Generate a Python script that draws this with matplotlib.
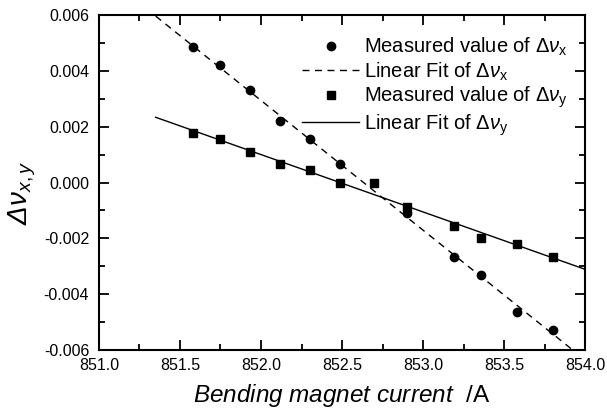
import numpy as np
import matplotlib
matplotlib.use("Agg")
import matplotlib.pyplot as plt
from matplotlib.ticker import MultipleLocator

plt.rcParams['font.family'] = ['Liberation Sans', 'DejaVu Sans']
plt.rcParams['mathtext.fontset'] = 'custom'
plt.rcParams['mathtext.rm'] = 'Liberation Sans'
plt.rcParams['mathtext.it'] = 'Liberation Sans:italic'
plt.rcParams['mathtext.sf'] = 'Liberation Sans:italic'
plt.rcParams['axes.unicode_minus'] = False

# Струм магніту та виміряні зсуви
current_x = [851.58, 851.75, 851.93, 852.12, 852.30, 852.49,
             852.90, 853.19, 853.36, 853.58, 853.80]
dnu_x = [0.00485, 0.00420, 0.00331, 0.00221, 0.00156, 0.00066,
         -0.00110, -0.00266, -0.00331, -0.00463, -0.00529]

current_y = [851.58, 851.75, 851.93, 852.12, 852.30, 852.49, 852.70,
             852.90, 853.19, 853.36, 853.58, 853.80]
dnu_y = [0.00177, 0.00155, 0.00109, 0.00066, 0.00044, 0.00000, 0.00000,
         -0.00088, -0.00156, -0.00200, -0.00222, -0.00267]

fit_range = [851.35, 854.0]

fig = plt.figure(figsize=(6.07, 4.13), dpi=100)
ax = fig.add_axes([0.163, 0.1525, 0.801, 0.8112])

px = np.polyfit(current_x, dnu_x, 1)
py = np.polyfit(current_y, dnu_y, 1)
xf = np.linspace(fit_range[0], fit_range[1], 50)

ax.plot(current_x, dnu_x, 'o', color='black', ms=6,
        label=r'Measured value of $\Delta\nu_\mathrm{x}$')
ax.plot(xf, np.polyval(px, xf), '--', color='black', lw=1, dashes=(5, 4),
        label=r'Linear Fit of $\Delta\nu_\mathrm{x}$')
ax.plot(current_y, dnu_y, 's', color='black', ms=6,
        label=r'Measured value of $\Delta\nu_\mathrm{y}$')
ax.plot(xf, np.polyval(py, xf), '-', color='black', lw=1,
        label=r'Linear Fit of $\Delta\nu_\mathrm{y}$')

ax.set_xlim(851.0, 854.0)
ax.set_ylim(-0.006, 0.006)
ax.xaxis.set_major_locator(MultipleLocator(0.5))
ax.xaxis.set_minor_locator(MultipleLocator(0.25))
ax.yaxis.set_major_locator(MultipleLocator(0.002))
ax.yaxis.set_minor_locator(MultipleLocator(0.001))
ax.xaxis.set_major_formatter(plt.FuncFormatter(lambda v, p: f'{v:.1f}'))
ax.yaxis.set_major_formatter(plt.FuncFormatter(lambda v, p: f'{v:.3f}'))

ax.tick_params(which='both', direction='in', top=True, right=True,
               labelsize=11.5, width=1.3)
ax.tick_params(which='major', length=7)
ax.tick_params(which='minor', length=4)
ax.tick_params(axis='x', which='major', pad=6)
ax.tick_params(axis='y', which='major', pad=7)
for s in ax.spines.values():
    s.set_linewidth(1.5)

ax.set_xlabel(r'$\mathit{Bending\ magnet\ current}$  /A', fontsize=17.5,
              labelpad=6)
ax.set_ylabel(r'$\mathsf{\Delta\nu}_{x,y}$', fontsize=20, labelpad=0)
ax.yaxis.set_label_coords(-0.125, 0.47)

ax.legend(loc='upper right', frameon=False, fontsize=14.5, handlelength=2.8,
          handletextpad=0.25, labelspacing=0.1, borderaxespad=0.4,
          bbox_to_anchor=(0.997, 0.985))

fig.savefig('out.png', dpi=100)
